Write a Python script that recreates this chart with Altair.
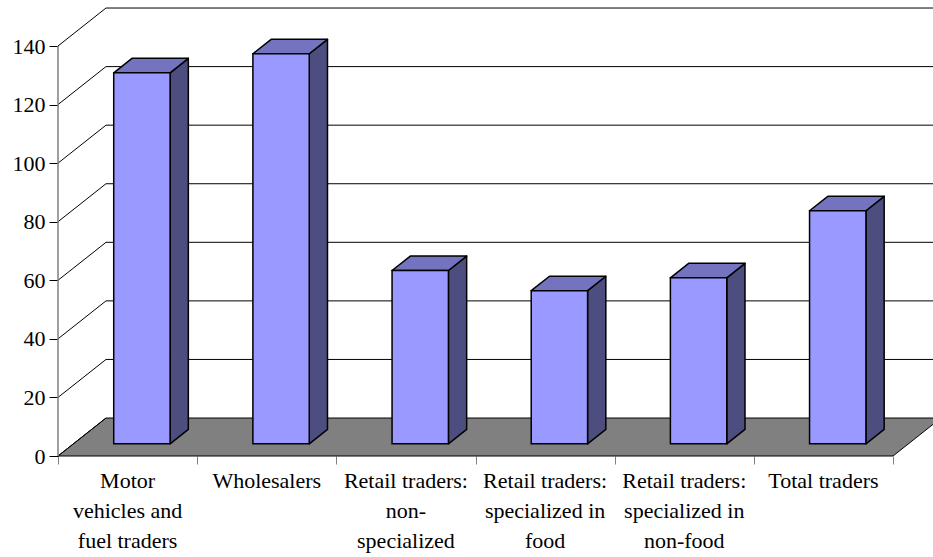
import altair as alt
import pandas as pd

# ---- data ----
categories = ["Motor vehicles and fuel traders", "Wholesalers",
              "Retail traders: non-specialized", "Retail traders: specialized in food",
              "Retail traders: specialized in non-food", "Total traders"]
label_lines = ["Motor\nvehicles and\nfuel traders", "Wholesalers",
               "Retail traders:\nnon-\nspecialized", "Retail traders:\nspecialized in\nfood",
               "Retail traders:\nspecialized in\nnon-food", "Total traders"]
values = [126.7, 133.2, 59.2, 52.3, 56.7, 79.6]
y_ticks = [0, 20, 40, 60, 80, 100, 120, 140]

# ---- 3-D projection constants (in data units) ----
N = len(categories)
DX = 0.345     # horizontal shift of full depth, in category units
DY = 12.97     # vertical shift of full depth, in value units
D0, D1 = 0.32, 0.70   # bar front / back depth
A, B = 0.29, 0.695    # bar left / right within a category
YMAX = 155.71

FONT = "Liberation Serif"
FS = 22

# floor
floor = pd.DataFrame({"y": [0, DY], "x": [0, DX], "x2": [N, N + DX]})
# back wall gridlines
grid = pd.DataFrame({"v": y_ticks[1:]})
grid["y"] = grid["v"] + DY
grid["x"] = DX
grid["x2"] = N + DX
# left wall diagonals
diag = pd.DataFrame({"v": y_ticks})
diag["x"] = 0.0
diag["x2"] = DX
diag["y"] = diag["v"]
diag["y2"] = diag["v"] + DY

front_rows, top_rows, side_rows = [], [], []
for i, (c, v) in enumerate(zip(categories, values)):
    front_rows.append({"cat": c, "x": i + A + DX * D0, "x2": i + B + DX * D0,
                       "y": DY * D0, "y2": v + DY * D0})
    for d in (D0, D1):
        top_rows.append({"cat": c, "y": v + DY * d, "x": i + A + DX * d, "x2": i + B + DX * d})
        side_rows.append({"cat": c, "x": i + B + DX * d, "y": DY * d, "y2": v + DY * d})
front = pd.DataFrame(front_rows)
top = pd.DataFrame(top_rows)
side = pd.DataFrame(side_rows)

labels = pd.DataFrame({"x": [i + 0.5 for i in range(N)], "label": label_lines})

xs = alt.Scale(domain=[0, N], nice=False, zero=False)
ys = alt.Scale(domain=[0, YMAX], nice=False, zero=False)

yax = alt.Axis(values=y_ticks, domain=False, grid=False, tickSize=9, tickWidth=1,
               tickColor="black", labelFont=FONT, labelFontSize=FS,
               labelColor="black", labelPadding=4, title=None)
xax = alt.Axis(values=list(range(N + 1)), labels=False, domain=False,
               grid=False, tickSize=8, tickWidth=1, tickColor="#808080", title=None)


def X(f="x:Q"):
    return alt.X(f, scale=xs, axis=xax, title=None)


def Y(f="y:Q"):
    return alt.Y(f, scale=ys, axis=yax, title=None)


floor_layer = alt.Chart(floor).mark_area(
    orient="horizontal", fill="#808080", stroke="black", strokeWidth=1
).encode(y=Y(), x=X(), x2="x2:Q")

grid_layer = alt.Chart(grid).mark_rule(color="black", strokeWidth=1).encode(
    x=X(), x2="x2:Q", y=Y(),
)

diag_layer = alt.Chart(diag).mark_rule(color="black", strokeWidth=1).encode(
    x=X(), x2="x2:Q", y=Y(), y2="y2:Q",
)

yaxis_line = alt.Chart(pd.DataFrame({"x": [0], "y": [0], "y2": [y_ticks[-1]]})).mark_rule(
    color="#808080", strokeWidth=1.5
).encode(x=X(), y=Y(), y2="y2:Q")

side_layer = alt.Chart(side).mark_area(
    orient="vertical", fill="#4D4D80", stroke="black", strokeWidth=1.5, strokeJoin="round"
).encode(x=X(), y=Y(), y2="y2:Q", detail="cat:N")

top_layer = alt.Chart(top).mark_area(
    orient="horizontal", fill="#7373BF", stroke="black", strokeWidth=1.5, strokeJoin="round"
).encode(y=Y(), x=X(), x2="x2:Q", detail="cat:N")

front_layer = alt.Chart(front).mark_rect(
    fill="#9999FF", stroke="black", strokeWidth=1.5
).encode(x=X(), x2="x2:Q", y=Y(), y2="y2:Q")

label_layer = alt.Chart(labels).mark_text(
    font=FONT, fontSize=FS, lineHeight=30, baseline="top", align="center",
    color="black", lineBreak="\n"
).encode(x=X(), y=alt.value(471), text="label:N")

chart = alt.layer(
    floor_layer, grid_layer, diag_layer, yaxis_line,
    side_layer, top_layer, front_layer, label_layer
).properties(
    width=835, height=456,
    autosize=alt.AutoSizeParams(type="none"),
    padding={"left": 58, "top": 0, "right": 40, "bottom": 101},
    background="white",
).configure_view(stroke=None)

chart.save("out.html", embed_options={"renderer": "svg", "actions": False})
